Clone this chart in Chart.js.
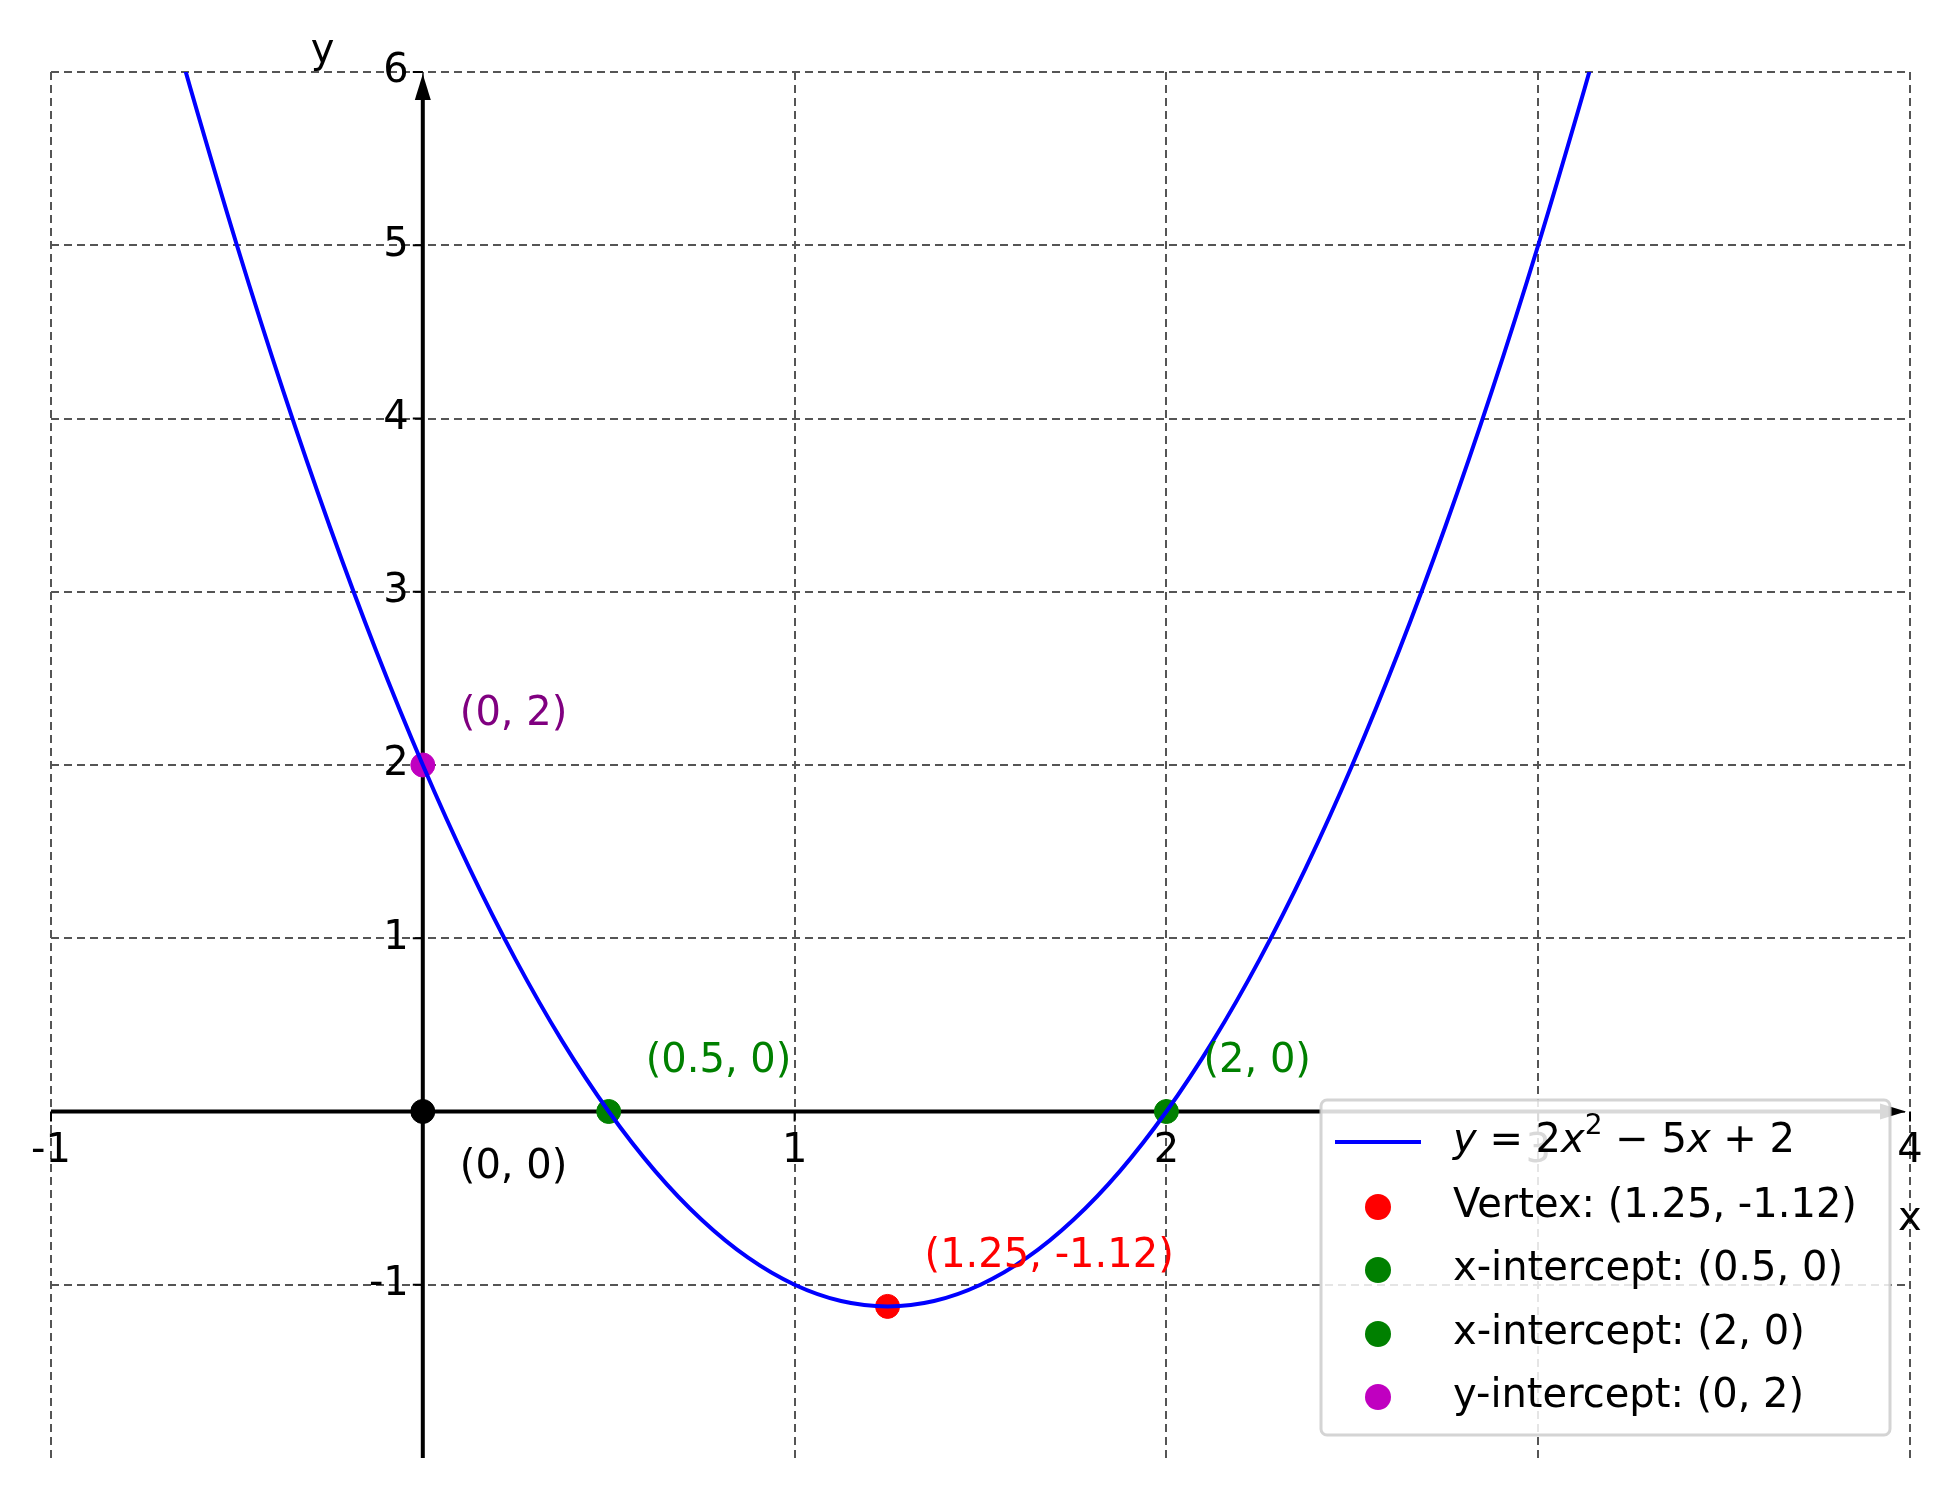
<!DOCTYPE html>
<html><head><meta charset="utf-8">
<script src="https://cdn.jsdelivr.net/npm/chart.js@4"></script>
<style>html,body{margin:0;padding:0;background:#fff}#c{display:block}</style>
</head><body>
<div style="width:1954px;height:1488px"><canvas id="c"></canvas></div>
<script>
const curveX = [-0.65,-0.625,-0.5,-0.375,-0.25,-0.125,0,0.125,0.25,0.375,0.5,0.625,0.75,0.875,1,1.125,1.25,1.375,1.5,1.625,1.75,1.875,2,2.125,2.25,2.375,2.5,2.625,2.75,2.875,3,3.125,3.15];
const curveY = [6.095,5.906,5,4.156,3.375,2.656,2,1.406,0.875,0.406,0,-0.344,-0.625,-0.844,-1,-1.094,-1.125,-1.094,-1,-0.844,-0.625,-0.344,0,0.406,0.875,1.406,2,2.656,3.375,4.156,5,5.906,6.095];
const vertex = [1.25,-1.125];
const xInt1 = [0.5,0];
const xInt2 = [2,0];
const yInt = [0,2];
const origin = [0,0];
const xTicks = [-1,1,2,3,4];
const yTicks = [-1,1,2,3,4,5,6];
const legendLabels = ["Vertex: (1.25, -1.12)","x-intercept: (0.5, 0)","x-intercept: (2, 0)","y-intercept: (0, 2)"];
const annots = [
  {p:yInt,t:"(0, 2)",c:"#800080",dy:-50},
  {p:xInt1,t:"(0.5, 0)",c:"#008000",dy:-50},
  {p:xInt2,t:"(2, 0)",c:"#008000",dy:-50},
  {p:vertex,t:"(1.25, -1.12)",c:"#ff0000",dy:-50},
  {p:origin,t:"(0, 0)",c:"#000",dy:56}
];
const F='"DejaVu Sans", sans-serif';
const FS=40;
const pt=(d,c)=>({type:'scatter',data:[{x:d[0],y:d[1]}],backgroundColor:c,borderColor:c,pointRadius:12,pointHoverRadius:12});
const deco={id:'deco',
 beforeDatasetsDraw(ch){
  const {ctx,scales:{x,y},chartArea:a}=ch;
  const x0=x.getPixelForValue(0), y0=y.getPixelForValue(0);
  ctx.save();ctx.setLineDash([]);ctx.strokeStyle='#000';ctx.fillStyle='#000';ctx.lineWidth=4;
  ctx.beginPath();ctx.moveTo(a.left,y0);ctx.lineTo(a.right-20,y0);ctx.stroke();
  ctx.beginPath();ctx.moveTo(x0,a.bottom);ctx.lineTo(x0,a.top+20);ctx.stroke();
  ctx.beginPath();ctx.moveTo(a.right-4,y0);ctx.lineTo(a.right-30,y0-8);ctx.lineTo(a.right-30,y0+8);ctx.fill();
  ctx.beginPath();ctx.moveTo(x0,a.top+2);ctx.lineTo(x0-8,a.top+28);ctx.lineTo(x0+8,a.top+28);ctx.fill();
  ctx.font=FS+'px '+F;ctx.textAlign='center';ctx.textBaseline='top';
  xTicks.forEach(v=>{const px=x.getPixelForValue(v);ctx.fillRect(px-1,y0,2,10);ctx.fillText(String(v),px,y0+20);});
  ctx.textAlign='right';ctx.textBaseline='middle';
  yTicks.forEach(v=>{const py=y.getPixelForValue(v);ctx.fillRect(x0-10,py-1,10,2);ctx.fillText(String(v),x0-14,py);});
  ctx.textAlign='left';ctx.fillText('x',a.right-12,y0+108);
  ctx.fillText('y',x0-112,a.top-20);
  ctx.restore();
 },
 afterDatasetsDraw(ch){
  const {ctx,scales:{x,y}}=ch;
  ctx.save();ctx.setLineDash([]);ctx.font=FS+'px '+F;ctx.textAlign='left';ctx.textBaseline='middle';
  annots.forEach(o=>{ctx.fillStyle=o.c;ctx.fillText(o.t,x.getPixelForValue(o.p[0])+37,y.getPixelForValue(o.p[1])+o.dy);});
  const L=1321,T=1100,W=569,H=335;
  ctx.globalAlpha=0.85;ctx.fillStyle='#fff';ctx.strokeStyle='#ccc';ctx.lineWidth=3;
  ctx.beginPath();ctx.roundRect(L,T,W,H,6);ctx.fill();ctx.stroke();ctx.globalAlpha=1;
  const rows=[T+42,T+107,T+170,T+234,T+297];
  ctx.strokeStyle='#0000ff';ctx.lineWidth=4;ctx.beginPath();ctx.moveTo(L+14,rows[0]);ctx.lineTo(L+100,rows[0]);ctx.stroke();
  const cols=['#ff0000','#008000','#008000','#c000c0'];
  cols.forEach((c,i)=>{ctx.fillStyle=c;ctx.beginPath();ctx.arc(L+57,rows[i+1],13,0,Math.PI*2);ctx.fill();});
  ctx.fillStyle='#000';
  legendLabels.forEach((t,i)=>ctx.fillText(t,L+132,rows[i+1]));
  let cx=L+132;const seg=(t,it,dy,sz)=>{ctx.font=(it?'italic ':'')+(sz||FS)+'px '+F;ctx.fillText(t,cx,rows[0]+(dy||0));cx+=ctx.measureText(t).width;};
  seg('y',1);seg(' = 2');seg('x',1);seg('2',0,-15,28);seg(' − 5');seg('x',1);seg(' + 2');
  ctx.restore();
 }};
new Chart(document.getElementById('c'),{
 type:'scatter',
 data:{datasets:[
  {type:'line',data:curveX.map((v,i)=>({x:v,y:curveY[i]})),borderColor:'#0000ff',borderWidth:4,pointRadius:0,cubicInterpolationMode:'monotone',fill:false},
  pt(vertex,'#ff0000'),pt(xInt1,'#008000'),pt(xInt2,'#008000'),pt(yInt,'#c000c0'),pt(origin,'#000')
 ]},
 options:{responsive:true,maintainAspectRatio:false,animation:false,
  layout:{padding:{left:51,top:72,right:44,bottom:30}},
  plugins:{legend:{display:false},tooltip:{enabled:false}},
  scales:{
   x:{type:'linear',min:-1,max:4,ticks:{display:false,stepSize:1},border:{display:false,dash:[8,5]},
      grid:{color:'#555',lineWidth:2,drawTicks:false},
      afterBuildTicks:s=>{s.ticks=[-1,0,1,2,3,4].map(v=>({value:v}));}},
   y:{type:'linear',min:-2,max:6,ticks:{display:false,stepSize:1},border:{display:false,dash:[8,5]},
      grid:{color:(c)=>c.tick.value===-2?'rgba(0,0,0,0)':'#555',lineWidth:2,drawTicks:false},
      afterBuildTicks:s=>{s.ticks=[-2,-1,0,1,2,3,4,5,6].map(v=>({value:v}));}}
  }
 },
 plugins:[deco]
});
</script></body></html>
